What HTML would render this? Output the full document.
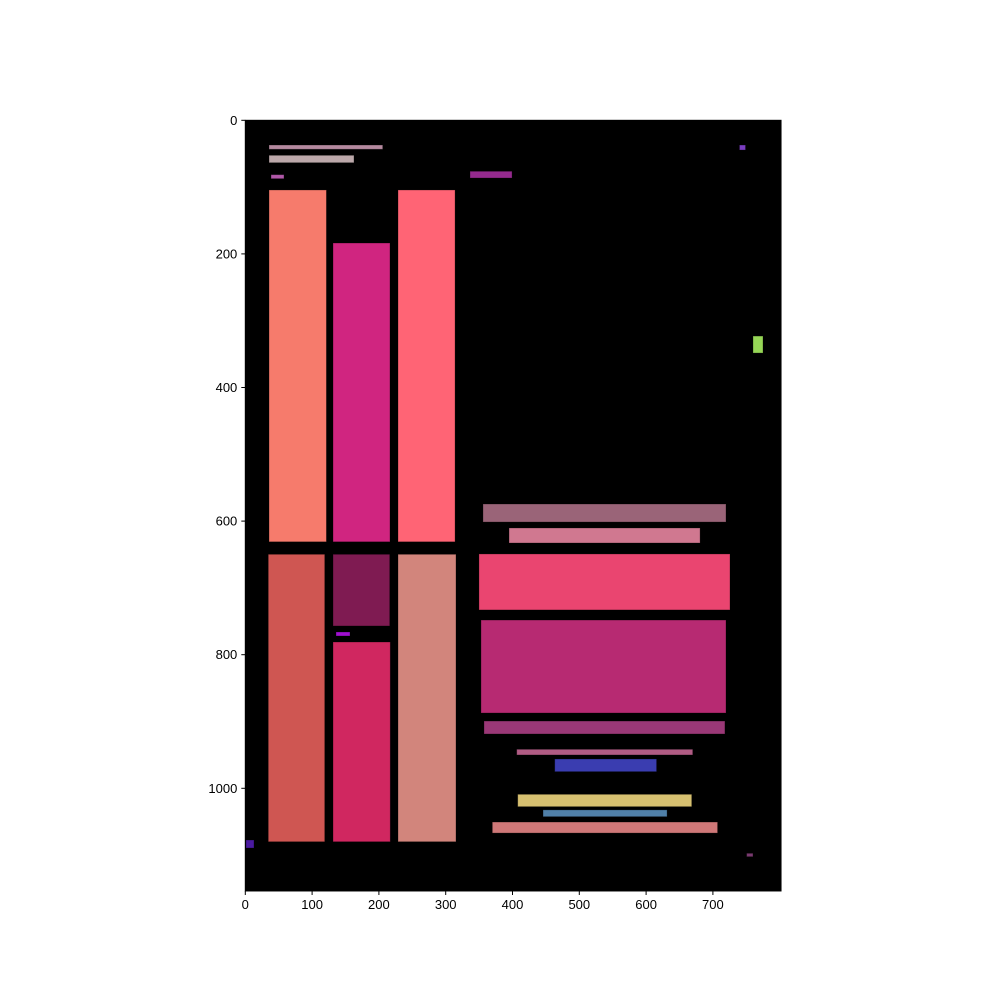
<!DOCTYPE html>
<html><head><meta charset="utf-8"><style>
body{margin:0;background:#fff;width:1000px;height:1000px;overflow:hidden}
svg{display:block}
text{font-family:"Liberation Sans",sans-serif;font-size:13px;fill:#000}
</style></head><body>
<svg id="chart" width="1000" height="1000" xmlns="http://www.w3.org/2000/svg"></svg>
<script>
const rectX0=[35.5,35.5,38.5,336.4,739.8,35.5,131.3,228.6,760,355.8,394.8,349.8,352.8,357.3,406.3,463.2,407.8,445.7,369.8,750.5,34.4,131.3,135.8,131.3,228.6,1];
const rectX1=[205.7,162.7,57.9,399.3,748.8,121.4,216.6,314,775,719.6,680.8,725.6,719.6,718,669.8,615.7,668.3,631.4,707,760,118.9,216.2,156.7,217,315.4,13];
const rectY0=[37,52.4,81.4,76.3,37,104.3,183.7,104.3,323,574.4,610.3,649.2,748.1,899.3,941.6,956.1,1009,1032.3,1050.5,1097.3,649.7,649.7,766,781,649.7,1077.4];
const rectY1=[43.4,63.5,87.4,86.4,44.5,631,631,631,348.4,601.4,632.8,733,887.3,918.7,950.1,975.1,1027.5,1042.5,1067,1102.4,1080,757,772,1080,1080,1089.4];
const rectColors=["#b58a9f","#bca8aa","#b058a8","#952a8e","#7a3dc0","#f67b6c","#d02580","#ff6475","#96d656","#9a6478","#d07890","#ea4570","#b72a72","#9a3877","#b05c84","#3a3db0","#d6c070","#5080a8","#cf7878","#7a3a70","#cf5652","#7f1b52","#a010d0","#d02760","#d2857c","#4a1aa0"];
const xTicks=[0,100,200,300,400,500,600,700];
const yTicks=[0,200,400,600,800,1000];
const xMax=802, yMax=1153.7;
const L=245.3,T=120.3,S=0.668;
const sx=v=>L+v*S, sy=v=>T+v*S;
const svg=document.getElementById('chart');
const NS="http://www.w3.org/2000/svg";
function mk(t,a){const e=document.createElementNS(NS,t);for(const k in a)e.setAttribute(k,a[k]);svg.appendChild(e);return e;}
const bg=mk('rect',{x:sx(0),y:sy(0),width:xMax*S,height:yMax*S,fill:'#000'});


rectX0.forEach((x0,i)=>{
 const r=mk('rect',{x:sx(x0),y:sy(rectY0[i]),width:(rectX1[i]-x0)*S,height:(rectY1[i]-rectY0[i])*S,fill:rectColors[i],stroke:'rgba(0,0,0,0.35)','stroke-width':0.8});
 
 
});
const fr=mk('rect',{x:sx(0),y:sy(0),width:xMax*S,height:yMax*S,fill:'none',stroke:'#000','stroke-width':1});


xTicks.forEach(v=>{
 mk('line',{x1:sx(v),x2:sx(v),y1:sy(yMax),y2:sy(yMax)+4,stroke:'#000'});
 const t=mk('text',{x:sx(v),y:sy(yMax)+18,'text-anchor':'middle'});t.textContent=v;
 
 
});
yTicks.forEach(v=>{
 mk('line',{x1:sx(0)-4,x2:sx(0),y1:sy(v),y2:sy(v),stroke:'#000'});
 const t=mk('text',{x:sx(0)-8,y:sy(v)+4.5,'text-anchor':'end'});t.textContent=v;
 
 
});
</script>
</body></html>
